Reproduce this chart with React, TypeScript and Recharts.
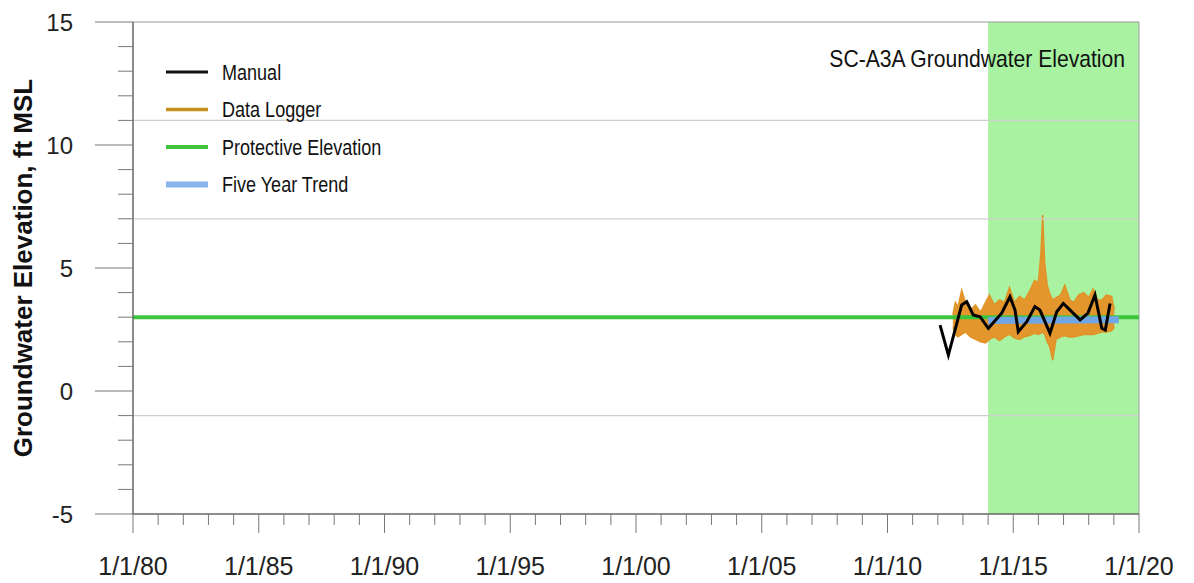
import React from 'react';
import { ComposedChart, Line, Area, XAxis, YAxis, ReferenceLine, ReferenceArea } from 'recharts';

// x values are decimal years
const manualYears = [2012.09, 2012.42, 2012.95, 2013.15, 2013.41, 2013.68, 2014.01, 2014.54, 2014.87, 2015.07, 2015.2, 2015.54, 2015.86, 2016.06, 2016.46, 2016.73, 2016.99, 2017.26, 2017.66, 2017.97, 2018.25, 2018.52, 2018.66, 2018.85];
const manualValues = [2.68, 1.46, 3.5, 3.63, 3.09, 3.02, 2.55, 3.16, 3.83, 3.29, 2.41, 2.82, 3.43, 3.29, 2.35, 3.22, 3.56, 3.29, 2.89, 3.17, 3.9, 2.55, 2.48, 3.56];

const loggerYears = [2012.6, 2012.7, 2012.8, 2012.95, 2013.1, 2013.3, 2013.5, 2013.7, 2013.9, 2014.05, 2014.25, 2014.45, 2014.65, 2014.85, 2015.05, 2015.25, 2015.45, 2015.65, 2015.85, 2016.0, 2016.1, 2016.17, 2016.25, 2016.35, 2016.45, 2016.57, 2016.7, 2016.88, 2017.05, 2017.25, 2017.4, 2017.6, 2017.8, 2018.0, 2018.18, 2018.35, 2018.52, 2018.7, 2018.91, 2019.02];
const loggerLow = [2.6, 2.3, 2.2, 2.3, 2.4, 2.2, 2.1, 2.0, 1.95, 2.1, 2.2, 2.05, 2.2, 2.3, 2.15, 2.1, 2.2, 2.25, 2.35, 2.3, 2.35, 2.4, 2.3, 2.0, 1.8, 1.25, 2.1, 2.2, 2.25, 2.2, 2.2, 2.25, 2.3, 2.3, 2.3, 2.35, 2.4, 2.4, 2.45, 2.6];
const loggerHigh = [3.1, 3.6, 3.4, 4.1, 3.6, 3.3, 3.5, 3.2, 3.6, 3.9, 3.5, 3.7, 3.6, 4.2, 3.6, 3.85, 3.7, 4.05, 4.5, 4.4, 5.6, 7.15, 5.2, 4.3, 3.95, 3.7, 3.8, 3.9, 4.3, 3.7, 3.6, 3.9, 4.0, 3.8, 4.15, 3.7, 3.7, 3.9, 3.85, 3.3];

const protectiveYears = [1980, 2020];
const protectiveValues = [3.0, 3.0];

const trendYears = [2014.0, 2019.2];
const trendValues = [2.87, 2.9];

const gridValues = [15, 11, 7, 3, -1];
const shadeStart = 2014;
const shadeEnd = 2020;

const yearTicks = Array.from({ length: 41 }, (_, i) => 1980 + i);
const majorYears = [1980, 1985, 1990, 1995, 2000, 2005, 2010, 2015, 2020];
const xTickLabels = ['1/1/80', '1/1/85', '1/1/90', '1/1/95', '1/1/00', '1/1/05', '1/1/10', '1/1/15', '1/1/20'];
const valueTicks = Array.from({ length: 21 }, (_, i) => -5 + i);
const majorValues = [-5, 0, 5, 10, 15];

const manualData = manualYears.map((x, i) => ({ x, v: manualValues[i] }));
const loggerData = loggerYears.map((x, i) => ({ x, range: [loggerLow[i], loggerHigh[i]] }));
const protectiveData = protectiveYears.map((x, i) => ({ x, v: protectiveValues[i] }));
const trendData = trendYears.map((x, i) => ({ x, v: trendValues[i] }));

const FONT = '"Liberation Sans", Arial, sans-serif';

const XTick = ({ x, y, payload }: any) => {
  const idx = majorYears.indexOf(payload.value);
  const major = idx >= 0;
  return (
    <g>
      <line x1={x} x2={x} y1={y} y2={y + (major ? 19 : 11)} stroke="#777" strokeWidth={1} />
      {major && (
        <text x={x} y={y + 61} textAnchor="middle" fontSize={25} fill="#222" fontFamily={FONT}>
          {xTickLabels[idx]}
        </text>
      )}
    </g>
  );
};

const YTick = ({ x, y, payload }: any) => {
  const major = majorValues.includes(payload.value);
  return (
    <g>
      <line x1={x} x2={x - (major ? 38 : 15)} y1={y} y2={y} stroke="#777" strokeWidth={1} />
      {major && (
        <text x={x - 60} y={y} dy="0.36em" textAnchor="end" fontSize={24} fill="#222" fontFamily={FONT}>
          {payload.value}
        </text>
      )}
    </g>
  );
};

const legendItems = [
  { name: 'Manual', color: '#111', width: 3 },
  { name: 'Data Logger', color: '#c8901a', width: 3.5 },
  { name: 'Protective Elevation', color: '#3cc43c', width: 4 },
  { name: 'Five Year Trend', color: '#8ab4ee', width: 6 },
];

const App = () => {
  return (
    <div style={{ position: 'absolute', left: 0, top: 0, width: 1194, height: 583, background: '#fff' }}>
      <ComposedChart width={1194} height={583} margin={{ top: 22, right: 55, bottom: 0, left: 0 }}>
        <XAxis
          type="number"
          dataKey="x"
          domain={[1980, 2020]}
          ticks={yearTicks}
          interval={0}
          allowDataOverflow
          height={69}
          tickSize={0}
          tickMargin={0}
          tickLine={false}
          axisLine={{ stroke: '#666', strokeWidth: 1.5 }}
          tick={<XTick />}
        />
        <YAxis
          type="number"
          domain={[-5, 15]}
          ticks={valueTicks}
          interval={0}
          allowDataOverflow
          width={133}
          tickSize={0}
          tickMargin={0}
          tickLine={false}
          axisLine={{ stroke: '#666', strokeWidth: 1.5 }}
          tick={<YTick />}
        />
        <ReferenceArea x1={shadeStart} x2={shadeEnd} y1={-5} y2={15} fill="#a8f2a2" fillOpacity={1} stroke="none" />
        {gridValues.map((g) => (
          <ReferenceLine key={g} y={g} stroke={g === 15 ? '#999' : '#cfcfcf'} strokeWidth={1.2} />
        ))}
        <ReferenceLine x={2020} stroke="#aaa" strokeWidth={1.2} />
        <Area
          data={loggerData}
          dataKey="range"
          type="linear"
          stroke="#e09428"
          strokeWidth={1.5}
          fill="#e3962c"
          fillOpacity={1}
          isAnimationActive={false}
          dot={false}
          activeDot={false}
        />
        <Line data={protectiveData} dataKey="v" type="linear" stroke="#3cc43c" strokeWidth={4} dot={false} isAnimationActive={false} />
        <Line data={trendData} dataKey="v" type="linear" stroke="#6fa6e6" strokeWidth={7} dot={false} isAnimationActive={false} />
        <Line data={manualData} dataKey="v" type="linear" stroke="#000" strokeWidth={3} dot={false} isAnimationActive={false} />
      </ComposedChart>

      <svg width={1194} height={583} style={{ position: 'absolute', left: 0, top: 0, pointerEvents: 'none' }}>
        <text
          transform="translate(32, 268) rotate(-90)"
          textAnchor="middle"
          fontSize={26}
          fontWeight="bold"
          fill="#111"
          fontFamily={FONT}
        >
          Groundwater Elevation, ft MSL
        </text>
        <text transform="translate(1125, 67) scale(0.88, 1)" textAnchor="end" fontSize={24} fill="#111" fontFamily={FONT}>
          SC-A3A Groundwater Elevation
        </text>
        {legendItems.map((item, i) => {
          const cy = 72 + i * 37.5;
          return (
            <g key={item.name}>
              <line x1={166} x2={208} y1={cy} y2={cy} stroke={item.color} strokeWidth={item.width} />
              <text transform={`translate(222, ${cy}) scale(0.82, 1)`} dy="0.36em" fontSize={22} fill="#111" fontFamily={FONT}>
                {item.name}
              </text>
            </g>
          );
        })}
      </svg>
    </div>
  );
};

export default App;
